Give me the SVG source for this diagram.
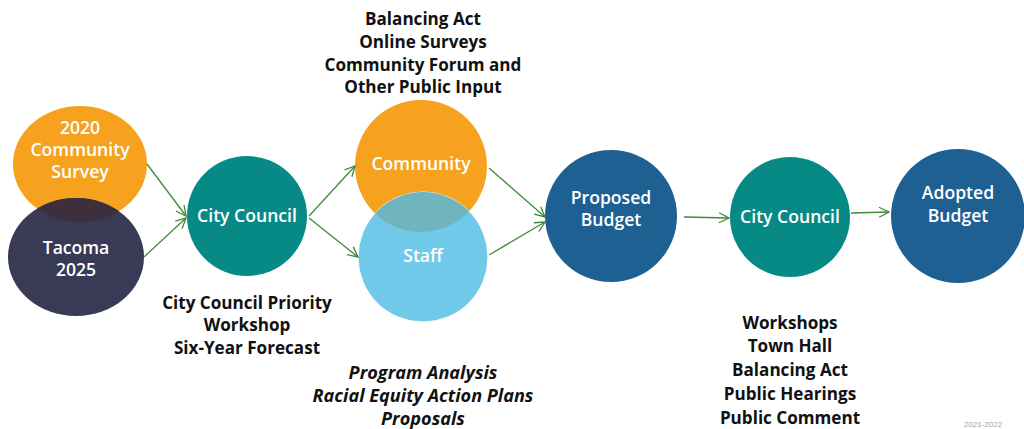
<svg xmlns="http://www.w3.org/2000/svg" width="1024" height="429" viewBox="0 0 1024 429">
<style>
.lbl{font-family:"Open Sans","Noto Sans","Liberation Sans",sans-serif;font-weight:600;font-size:17.6px;fill:#ffffff;text-anchor:middle}
.note{font-family:"Open Sans","Noto Sans","Liberation Sans",sans-serif;font-weight:700;font-size:17.1px;fill:#111111;text-anchor:middle}
.it{font-style:italic;font-size:18.1px}
.con line{stroke:#3f8a3a;stroke-width:1.3;fill:none;marker-end:url(#ah)}
</style>
<defs>
<marker id="ah" viewBox="0 0 12 12" refX="11" refY="6" markerWidth="12" markerHeight="12" markerUnits="userSpaceOnUse" orient="auto">
<path d="M1,1 L11,6 L1,11" fill="none" stroke="#3f8a3a" stroke-width="1.3"/>
</marker>
<clipPath id="cOrange"><ellipse cx="80" cy="164" rx="67" ry="58"/></clipPath>
<clipPath id="cComm"><circle cx="421" cy="166" r="66"/></clipPath>
</defs>
<rect width="1024" height="429" fill="#ffffff"/>
<g id="survey2020">
<ellipse cx="80" cy="164" rx="67" ry="58" fill="#f7a21e"/>
</g>
<g id="tacoma2025">
<ellipse cx="76" cy="257" rx="68" ry="59" fill="#383a56"/>
<ellipse cx="76" cy="257" rx="68" ry="59" fill="#3e2f3d" clip-path="url(#cOrange)"/>
<text class="lbl" x="80" y="134">2020</text>
<text class="lbl" x="80" y="156">Community</text>
<text class="lbl" x="80" y="178">Survey</text>
<text class="lbl" x="76" y="254">Tacoma</text>
<text class="lbl" x="76" y="276">2025</text>
</g>
<g id="citycouncil1">
<circle cx="247" cy="216" r="60" fill="#078a86"/>
<text class="lbl" x="247" y="222">City Council</text>
</g>
<g id="community">
<circle cx="421" cy="166" r="66" fill="#f7a21e"/>
</g>
<g id="staff">
<circle cx="423" cy="257" r="65" fill="#71c9ea" stroke="#ffffff" stroke-width="1"/>
<circle cx="423" cy="257" r="65" fill="#70b5bd" clip-path="url(#cComm)"/>
<text class="lbl" x="421" y="170">Community</text>
<text class="lbl" x="423" y="262">Staff</text>
</g>
<g id="proposed">
<circle cx="611" cy="216" r="66" fill="#1f6093"/>
<text class="lbl" x="611" y="204">Proposed</text>
<text class="lbl" x="611" y="226">Budget</text>
</g>
<g id="citycouncil2">
<circle cx="790" cy="217" r="60" fill="#078a86"/>
<text class="lbl" x="790" y="223">City Council</text>
</g>
<g id="adopted">
<circle cx="958" cy="216" r="67" fill="#1f6093"/>
<text class="lbl" x="958" y="199">Adopted</text>
<text class="lbl" x="958" y="222">Budget</text>
</g>
<g class="con" id="connectors">
<line x1="147" y1="164" x2="186" y2="216"/>
<line x1="144" y1="257" x2="186" y2="218"/>
<line x1="309" y1="216" x2="355" y2="166"/>
<line x1="309" y1="218" x2="358" y2="257"/>
<line x1="489" y1="168" x2="545" y2="217"/>
<line x1="489" y1="255" x2="545" y2="222"/>
<line x1="684" y1="217" x2="729" y2="218"/>
<line x1="851" y1="213" x2="889" y2="212"/>
</g>
<g id="notes">
<text class="note" x="423" y="25">Balancing Act</text>
<text class="note" x="423" y="48">Online Surveys</text>
<text class="note" x="423" y="71">Community Forum and</text>
<text class="note" x="423" y="93">Other Public Input</text>
<text class="note" x="247" y="309">City Council Priority</text>
<text class="note" x="247" y="331">Workshop</text>
<text class="note" x="247" y="354">Six-Year Forecast</text>
<text class="note it" x="423" y="379">Program Analysis</text>
<text class="note it" x="423" y="402">Racial Equity Action Plans</text>
<text class="note it" x="423" y="425">Proposals</text>
<text class="note" x="790" y="329">Workshops</text>
<text class="note" x="790" y="352">Town Hall</text>
<text class="note" x="790" y="376">Balancing Act</text>
<text class="note" x="790" y="400">Public Hearings</text>
<text class="note" x="790" y="424">Public Comment</text>
<text x="983" y="427" font-family="Liberation Sans,sans-serif" font-size="8" fill="#9aa4b0" text-anchor="middle">2021-2022</text>
</g>
</svg>
